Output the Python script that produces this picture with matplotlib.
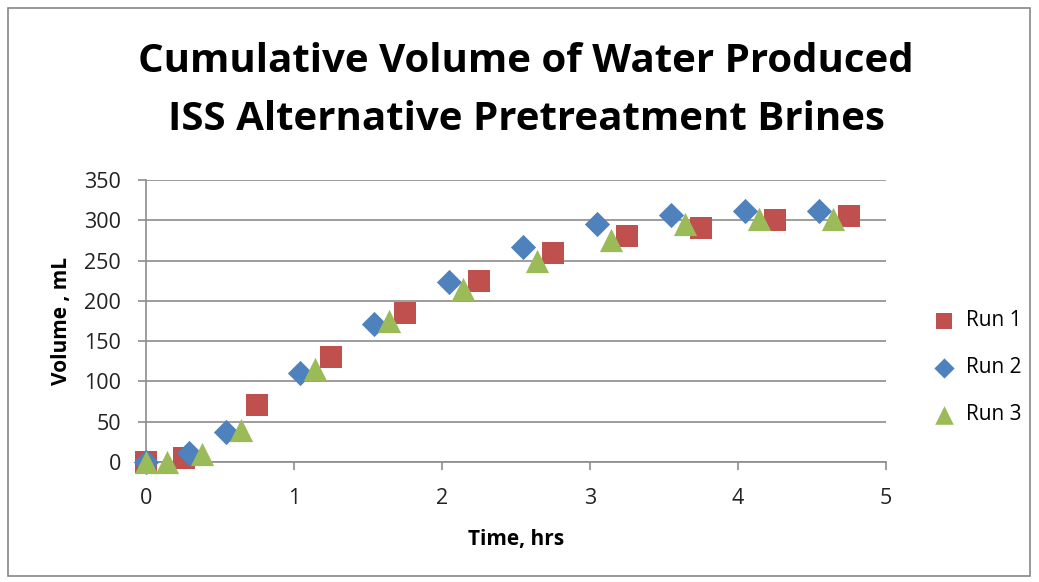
import matplotlib
matplotlib.use("Agg")
import matplotlib.pyplot as plt
from matplotlib.patches import Rectangle

run1_x = [0, 0.26, 0.75, 1.25, 1.75, 2.25, 2.75, 3.25, 3.75, 4.25, 4.75]
run1_y = [0, 5, 71, 130, 185, 225, 260, 280, 290, 300, 305]
run2_x = [0, 0.29, 0.54, 1.04, 1.54, 2.05, 2.55, 3.05, 3.55, 4.05, 4.55]
run2_y = [0, 11, 37, 110, 171, 223, 267, 295, 306, 311, 311]
run3_x = [0, 0.14, 0.38, 0.64, 1.14, 1.64, 2.14, 2.64, 3.14, 3.64, 4.14, 4.64]
run3_y = [0, 0, 10, 40, 115, 175, 215, 250, 275, 295, 302, 302]

x_ticks = [0, 1, 2, 3, 4, 5]
y_ticks = [0, 50, 100, 150, 200, 250, 300, 350]

title_lines = ["Cumulative Volume of Water Produced", "ISS Alternative Pretreatment Brines"]
xlabel = "Time, hrs"
ylabel = "Volume , mL"

W, H = 1039, 582
fig = plt.figure(figsize=(W / 100, H / 100), dpi=100)
ax = fig.add_axes([146 / W, 1 - 462 / H, (886 - 146) / W, (462 - 180) / H])

fig.patches.append(Rectangle((8 / W, 1 - 576 / H), (1030 - 8) / W, (576 - 8) / H,
                             transform=fig.transFigure, fill=False,
                             edgecolor="#888888", linewidth=1.2))

ax.scatter(run1_x, run1_y, marker="s", s=230, color="#C0504D", label="Run 1", zorder=3, linewidths=0, clip_on=False)
ax.scatter(run2_x, run2_y, marker="D", s=165, color="#4F81BD", label="Run 2", zorder=3, linewidths=0, clip_on=False)
ax.scatter(run3_x, run3_y, marker="^", s=280, color="#9BBB59", label="Run 3", zorder=3, linewidths=0, clip_on=False)

ax.set_xlim(0, 5)
ax.set_ylim(0, 350)
ax.set_xticks(x_ticks)
ax.set_yticks(y_ticks)
ax.grid(axis="y", color="#8C8C8C", linewidth=1.2)
ax.set_axisbelow(True)
for s in ["top", "right"]:
    ax.spines[s].set_visible(False)
for s in ["left", "bottom"]:
    ax.spines[s].set_color("#8C8C8C")
    ax.spines[s].set_linewidth(1.2)
ax.tick_params(axis="both", colors="#8C8C8C", length=6, width=1.2, labelsize=15.5, labelcolor="#222222")
ax.tick_params(axis="x", pad=13)
ax.tick_params(axis="y", pad=12)
for lab in ax.get_xticklabels() + ax.get_yticklabels():
    lab.set_fontfamily("Open Sans")

ax.set_xlabel(xlabel, fontsize=15, fontweight="bold", family="Open Sans", labelpad=14)
ax.set_ylabel(ylabel, fontsize=15, fontweight="bold", family="Open Sans", labelpad=9)

fig.text(526 / W, 1 - 62 / H, title_lines[0], ha="center", va="center", fontsize=29,
         fontweight="bold", family="Open Sans")
fig.text(526 / W, 1 - 120 / H, title_lines[1], ha="center", va="center", fontsize=29,
         fontweight="bold", family="Open Sans")

leg = ax.legend(loc="center left", bbox_to_anchor=(1.025, 0.335), frameon=False,
                labelspacing=1.25, handletextpad=0.05, markerscale=0.8,
                prop={"family": "Open Sans", "size": 15})

fig.savefig("out.png", dpi=100)
